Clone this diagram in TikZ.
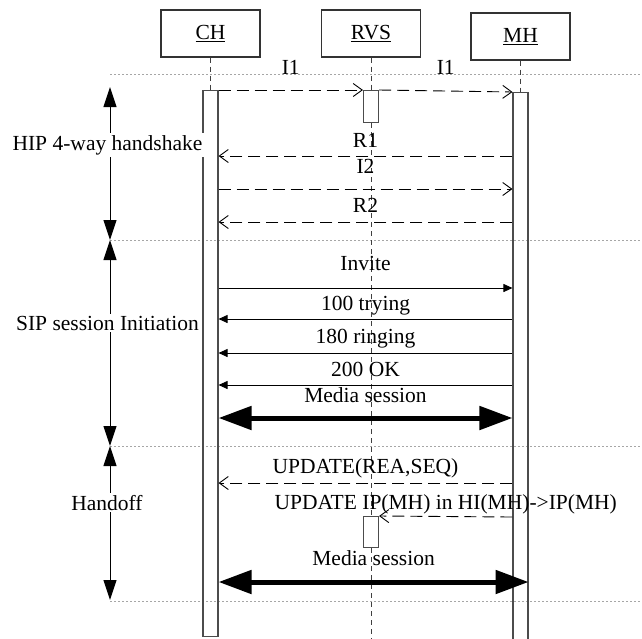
\documentclass[tikz,border=0pt]{standalone}
\usepackage{fontspec}
\setmainfont{Liberation Serif}
\usetikzlibrary{arrows.meta}

\newcommand{\bigtext}{\fontsize{21.5pt}{24pt}\selectfont}

\tikzset{
  entity/.style={draw=black!80, line width=1.1pt, minimum width=99pt, minimum height=47pt, inner sep=0pt, font=\bigtext},
  actbar/.style={draw=black!70, line width=1.1pt, minimum width=15pt, inner sep=0pt, anchor=north},
  lifeline/.style={draw=black!75, line width=0.9pt, dash pattern=on 5pt off 4pt},
  sepline/.style={draw=black!35, line width=0.8pt, dash pattern=on 2pt off 2pt},
  hipmsg/.style={line width=0.9pt, dash pattern=on 12pt off 6pt, -{Straight Barb[length=9pt,width=13pt]}},
  sipmsg/.style={line width=0.9pt, -{Triangle[length=9pt,width=8pt]}},
  media/.style={line width=5pt, {Triangle[length=33pt,width=23pt]}-{Triangle[length=33pt,width=23pt]}},
  phase/.style={line width=1pt, {Triangle[length=20pt,width=13pt]}-{Triangle[length=20pt,width=13pt]}},
  lbl/.style={font=\bigtext, anchor=base, inner sep=0pt},
  phaselbl/.style={font=\bigtext, anchor=base, fill=white, inner sep=2pt}
}

\begin{document}
\begin{tikzpicture}[x=1pt, y=-1pt]
\useasboundingbox (0,0) rectangle (642,638);

% separators
\draw[sepline] (110,74) -- (642,74);
\draw[sepline] (110,240) -- (642,240);
\draw[sepline] (110,446) -- (642,446);
\draw[sepline] (110,601) -- (642,601);

% entities and activation bars
\node[entity] (ch) at (210.5,33.5) {\underline{CH}};
\node[entity] (rvs) at (371,33.5) {\underline{RVS}};
\node[entity] (mh) at (520.5,36.5) {\underline{MH}};

\node[actbar, minimum height=546pt] (chbar) at (210.5,90) {};
\node[actbar, minimum height=560pt] (mhbar) at (520.5,92) {};
\node[actbar, minimum height=32pt] (rvsact1) at (371,90) {};
\node[actbar, minimum height=31pt] (rvsact2) at (371,516) {};
\coordinate (rvsend) at (371,645);

\draw[lifeline] (ch.south) -- (chbar.north);
\draw[lifeline] (mh.south) -- (mhbar.north);
\draw[lifeline] (rvs.south) -- (rvsact1.north);
\draw[lifeline] (rvsact1.south) -- (rvsact2.north);
\draw[lifeline] (rvsact2.south) -- (rvsend);

% message levels
\coordinate (r1) at (0,156);
\coordinate (i2) at (0,189);
\coordinate (r2) at (0,222);
\coordinate (inv) at (0,288);
\coordinate (try) at (0,319);
\coordinate (ring) at (0,353);
\coordinate (ok) at (0,385);
\coordinate (med1) at (0,418);
\coordinate (upd1) at (0,483);
\coordinate (upd2) at (0,517);
\coordinate (med2) at (0,582);

% HIP 4-way handshake
\draw[hipmsg] (chbar.north east) -- node[lbl, yshift=16pt] (i1a) {I1} (rvsact1.north west);
\draw[hipmsg] (rvsact1.north east) -- node[lbl, yshift=17pt] (i1b) {I1} (mhbar.north west);
\draw[hipmsg] (mhbar.west |- r1) -- node[lbl, yshift=9pt] (r1lbl) {R1} (chbar.east |- r1);
\draw[hipmsg] (chbar.east |- i2) -- node[lbl, yshift=16pt] (i2lbl) {I2} (mhbar.west |- i2);
\draw[hipmsg] (mhbar.west |- r2) -- node[lbl, yshift=10pt] (r2lbl) {R2} (chbar.east |- r2);

% SIP session
\draw[sipmsg] (chbar.east |- inv) -- node[lbl, yshift=18pt] (invlbl) {Invite} (mhbar.west |- inv);
\draw[sipmsg] (mhbar.west |- try) -- node[lbl, yshift=9pt] (trylbl) {100 trying} (chbar.east |- try);
\draw[sipmsg] (mhbar.west |- ring) -- node[lbl, yshift=10pt] (ringlbl) {180 ringing} (chbar.east |- ring);
\draw[sipmsg] (mhbar.west |- ok) -- node[lbl, yshift=9pt] (oklbl) {200 OK} (chbar.east |- ok);
\draw[media] (chbar.east |- med1) -- node[lbl, yshift=16pt] (med1lbl) {Media session} (mhbar.west |- med1);

% handoff
\draw[hipmsg] (mhbar.west |- upd1) -- node[lbl, yshift=10pt] (upd1lbl) {UPDATE(REA,SEQ)} (chbar.east |- upd1);
\draw[hipmsg] (mhbar.west |- upd2) -- node[lbl, yshift=7pt] (upd2lbl) {UPDATE IP(MH) in HI(MH)->IP(MH)} (rvsact2.north east);
\draw[media] (chbar.east |- med2) -- node[lbl, yshift=17pt] (med2lbl) {Media session} (mhbar.east |- med2);

% phases
\coordinate (hiptop) at (110,87);
\coordinate (hipbot) at (110,240);
\coordinate (sipbot) at (110,446);
\coordinate (hobot) at (110,600);
\draw[phase] (hiptop) -- (hipbot);
\draw[phase] (hipbot) -- (sipbot);
\draw[phase] (sipbot) -- (hobot);
\node[phaselbl] (hiplbl) at (107.5,150) {HIP 4-way handshake};
\node[phaselbl] (siplbl) at (107.5,330) {SIP session Initiation};
\node[phaselbl] (holbl) at (107,510) {Handoff};
\end{tikzpicture}
\end{document}
